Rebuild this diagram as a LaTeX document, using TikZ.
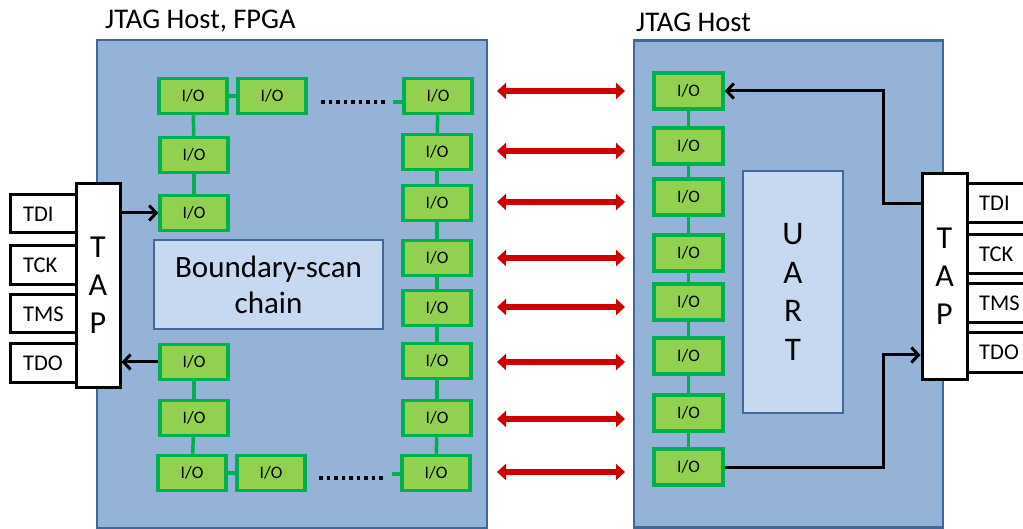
\documentclass[tikz,border=0pt]{standalone}
\usepackage{fontspec}
\setmainfont{Carlito}
\usetikzlibrary{arrows.meta}
\definecolor{hostfill}{HTML}{95B3D7}
\definecolor{hostdraw}{HTML}{41689A}
\definecolor{lightfill}{HTML}{C6D9F1}
\definecolor{iofill}{HTML}{92D050}
\definecolor{iodraw}{HTML}{00B050}
\definecolor{redarr}{HTML}{D00000}
\tikzset{
  host/.style={draw=hostdraw, fill=hostfill, line width=2.5pt, inner sep=0pt},
  lightbox/.style={draw=hostdraw, fill=lightfill, line width=2.5pt, inner sep=0pt, align=center},
  io/.style={draw=iodraw, fill=iofill, line width=3.5pt, minimum width=68pt, minimum height=35pt, inner sep=0pt, font=\fontsize{17.5}{17.5}\selectfont},
  chain/.style={draw=iodraw, line width=3.5pt},
  sig/.style={draw=black, fill=white, line width=3pt, inner sep=0pt},
  siglabel/.style={anchor=west, inner sep=0pt, font=\fontsize{22.5}{22.5}\selectfont},
  tap/.style={draw=black, fill=white, line width=3pt, inner sep=0pt, align=center, font=\fontsize{32}{38}\selectfont},
  blackarrow/.style={draw=black, line width=3pt, -{Straight Barb[length=7pt,width=15pt,line width=3pt]}},
  redarrow/.style={draw=redarr, line width=6pt, {Triangle[length=9pt,width=16pt]}-{Triangle[length=9pt,width=16pt]}},
  dots/.style={draw=black, line width=3.5pt, dash pattern=on 3.5pt off 4pt},
  title/.style={anchor=west, inner sep=0pt, font=\fontsize{28.5}{28.5}\selectfont}
}
\begin{document}
\begin{tikzpicture}[x=1pt,y=-1pt]
\useasboundingbox (0,0) rectangle (1023,529);
\clip (0,0) rectangle (1023,529);
\fill[white] (0,0) rectangle (1023,529);

% titles
\node[title] (t1) at (105,21) {JTAG Host, FPGA};
\node[title] (t2) at (636,22) {JTAG Host};

% host boxes
\node[host, minimum width=390pt, minimum height=488pt] (hostL) at (292,284) {};
\node[host, minimum width=309pt, minimum height=487pt] (hostR) at (788.5,284) {};

% boundary-scan chain box
\node[lightbox, minimum width=229pt, minimum height=89pt, font=\fontsize{31}{36}\selectfont] (bsc) at (268.5,284.5) {Boundary-scan\\chain};

% UART box
\node[lightbox, minimum width=100pt, minimum height=242pt, font=\fontsize{33}{38.5}\selectfont] (uart) at (793,292) {U\\A\\R\\T};

% left I/O cells
\node[io] (L1) at (193,96) {I/O};
\node[io] (L2) at (272,96) {I/O};
\node[io] (La) at (194,155) {I/O};
\node[io] (Lb) at (194,213) {I/O};
\node[io] (Lc) at (194,362) {I/O};
\node[io] (Ld) at (194,418) {I/O};
\node[io] (Le) at (192,473) {I/O};
\node[io] (Lf) at (271,473) {I/O};
\node[io] (R1) at (438,96) {I/O};
\node[io] (R2) at (437,152) {I/O};
\node[io] (R3) at (437,203) {I/O};
\node[io] (R4) at (437,258) {I/O};
\node[io] (R5) at (437,308) {I/O};
\node[io] (R6) at (437,361) {I/O};
\node[io] (R7) at (437,418) {I/O};
\node[io] (R8) at (436,473) {I/O};

% left chain connections
\draw[chain] (L1) -- (L2);
\draw[chain] (L1) -- (La);
\draw[chain] (La) -- (Lb);
\draw[chain] (Lc) -- (Ld);
\draw[chain] (Ld) -- (Le);
\draw[chain] (Le) -- (Lf);
\foreach \a/\b in {R1/R2,R2/R3,R3/R4,R4/R5,R5/R6,R6/R7,R7/R8}
  \draw[chain] (\a) -- (\b);
\coordinate (s1) at (393,102);
\coordinate (s2) at (392,474);
\draw[chain] (R1.west |- s1) -- (s1);
\draw[chain] (R8.west |- s2) -- (s2);
\coordinate (d1a) at (321,102);
\coordinate (d1b) at (386,102);
\coordinate (d2a) at (319,478);
\coordinate (d2b) at (384,478);
\draw[dots] (d1a) -- (d1b);
\draw[dots] (d2a) -- (d2b);

% right I/O cells
\foreach \n/\y in {1/91,2/146,3/197,4/253,5/302,6/356,7/413,8/467}
  \node[io, minimum width=69pt, minimum height=36pt] (Q\n) at (688.5,\y) {I/O};
\foreach \a/\b in {1/2,2/3,3/4,4/5,5/6,6/7,7/8}
  \draw[chain] (Q\a) -- (Q\b);

% red bidirectional arrows
\foreach \i/\y in {1/91,2/151,3/202,4/258,5/307,6/362,7/419,8/472} {
  \coordinate (ra\i) at (497,\y);
  \coordinate (rb\i) at (625,\y);
  \draw[redarrow] (ra\i) -- (rb\i);
}

% left signal boxes and TAP
\node[sig, minimum width=66pt, minimum height=38pt] (tdiL) at (43,214) {};
\node[sig, minimum width=66pt, minimum height=39pt] (tckL) at (43,265.5) {};
\node[sig, minimum width=66pt, minimum height=38pt] (tmsL) at (43,314) {};
\node[sig, minimum width=66pt, minimum height=38pt] (tdoL) at (43,363) {};
\node[siglabel] at (23,214) {TDI};
\node[siglabel] at (23,265.5) {TCK};
\node[siglabel] at (23,314) {TMS};
\node[siglabel] at (23,363) {TDO};
\node[tap, minimum width=44pt, minimum height=203pt] (tapL) at (98,285.5) {T\\A\\P};

% right signal boxes and TAP
\node[sig, minimum width=80pt, minimum height=39pt] (tdiR) at (1005,203.5) {};
\node[sig, minimum width=80pt, minimum height=39pt] (tckR) at (1005,254.5) {};
\node[sig, minimum width=80pt, minimum height=39pt] (tmsR) at (1005,303.5) {};
\node[sig, minimum width=80pt, minimum height=39pt] (tdoR) at (1005,352.5) {};
\node[siglabel] at (979,203.5) {TDI};
\node[siglabel] at (979,254.5) {TCK};
\node[siglabel] at (979,303.5) {TMS};
\node[siglabel] at (979,352.5) {TDO};
\node[tap, minimum width=45pt, minimum height=205pt] (tapR) at (944.5,276.5) {T\\A\\P};

% black connectors
\draw[blackarrow] (tapL.east |- Lb.west) -- (Lb.west);
\draw[blackarrow] (Lc.west) -- (tapL.east |- Lc.west);
\coordinate (k1) at (883,204);
\coordinate (k2) at (883,355);
\draw[blackarrow] (tapR.west |- k1) -- (k1) |- (Q1.east);
\draw[blackarrow] (Q8.east) -| (k2) -- (tapR.west |- k2);
\end{tikzpicture}
\end{document}
